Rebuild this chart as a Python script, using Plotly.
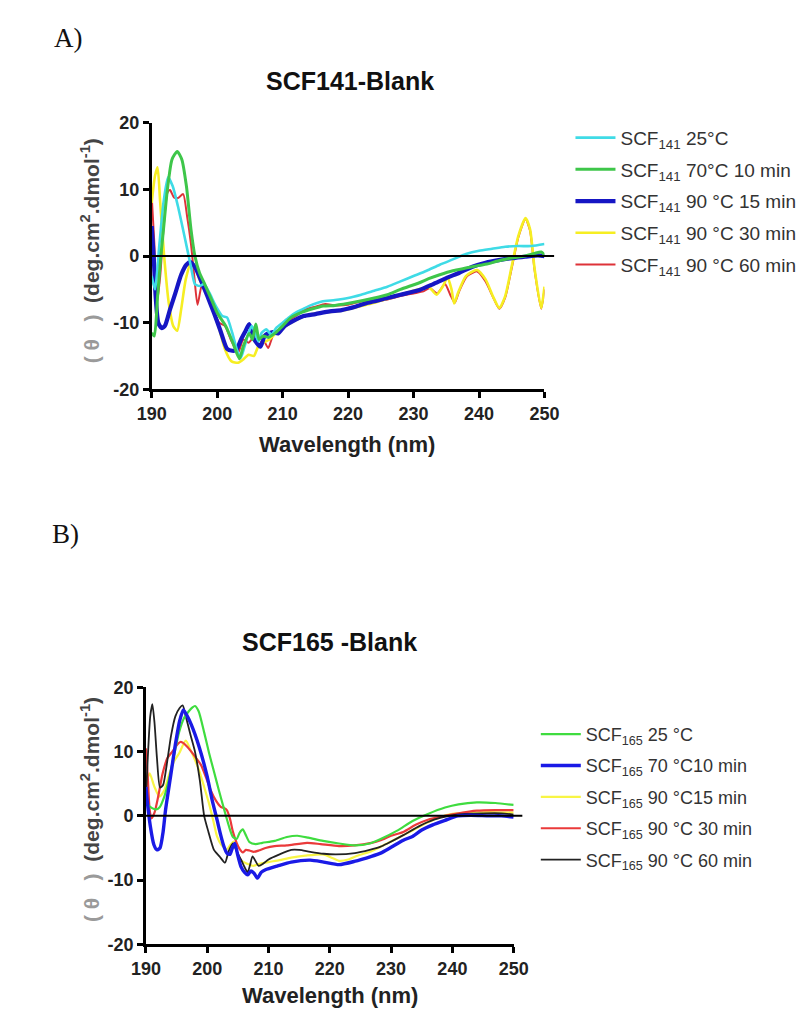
import plotly.graph_objects as go

W, H = 804, 1018

# ---------------- Panel A : SCF141-Blank ----------------
a_cyan_wl = [190, 190.5, 191.2, 191.8, 192.5, 193.2, 194, 195, 196, 196.6, 197.3, 198, 198.8, 199.8, 200.8, 201.5,
             202.3, 203, 203.6, 204.2, 204.8, 205.3, 205.8, 206.3, 206.8, 207.5, 208.3, 209, 210, 211, 212, 213, 214,
             216, 218, 220, 222, 224, 226, 228, 230, 232, 234, 236, 238, 240, 242, 244, 246, 248, 250]
a_cyan_v = [-3, -5, 2, 8, 11.8, 10.5, 7.5, 3, -1.6, -4.2, -4.5, -4.2, -5.5, -7.5, -9, -9.2,
            -11.5, -14, -15.3, -13.5, -11.5, -10.5, -11.5, -12.8, -11.5, -11, -11.8, -10.8, -10, -9.2, -8.5, -8, -7.5,
            -6.8, -6.6, -6.3, -5.8, -5.2, -4.6, -3.8, -3.0, -2.2, -1.3, -0.5, 0.3, 0.8, 1.1, 1.4, 1.5, 1.5, 1.8]

a_green_wl = [190, 190.4, 190.9, 191.4, 191.8, 192.4, 193.1, 193.9, 194.6, 195.3, 196, 196.6, 197.3, 198, 198.9, 200,
              201.3, 202.4, 203.4, 204, 204.9, 205.4, 205.9, 206.4, 207, 207.8, 208.8, 210, 211.3, 213, 216.2, 218,
              221.1, 224, 226, 228, 230.9, 232.3, 234, 236, 238, 240, 241.2, 243, 245, 247, 248.5, 249.5, 250]
a_green_v = [-11.5, -12, -6, 0, 4, 10, 14.5, 15.7, 14.5, 10.5, 4, 0, -2.5, -4, -6, -8.5,
             -10.5, -13, -15.4, -13.5, -11.6, -12.5, -10.2, -12.5, -12, -12.2, -11.6, -10.5, -9.2, -8.4, -7.5, -7.4,
             -6.9, -6.3, -5.8, -5, -4.0, -3.4, -2.8, -2.2, -1.8, -1.4, -1.2, -0.7, -0.3, 0, 0.4, 0.6, 0.2]

a_blue_wl = [190, 190.3, 190.6, 191, 191.5, 192, 192.8, 193.6, 194.5, 195.3, 195.9, 196.7, 197.5, 198.5, 199.5, 200.5,
             201.5, 202.3, 202.9, 203.7, 204.3, 204.9, 205.6, 206.6, 207.3, 208.5, 209.3, 210.3, 211.5, 213.2, 215,
             217.2, 219, 221.1, 223, 226, 228, 230.9, 233, 235, 237, 239, 241, 243, 245, 247, 249, 250]
a_blue_v = [4.5, 0, -6, -10, -10.8, -10.5, -8, -5.6, -2.8, -1.3, -0.9, -1.8, -3.6, -6, -8.5, -11.2,
            -13.9, -14.2, -14.1, -12.4, -11.3, -10.2, -12.4, -13.6, -11.9, -11.4, -11.6, -10.5, -9.8, -9.0, -8.7,
            -8.3, -8.1, -7.6, -7.0, -6.3, -5.8, -5.1, -4.2, -3.3, -2.5, -1.6, -1.0, -0.6, -0.3, -0.1, 0.1, 0]

a_yellow_wl = [190, 190.5, 190.9, 191.3, 191.9, 192.6, 193.3, 193.9, 194.5, 195.2, 196, 196.6, 197.3, 198.2, 199.2,
               200.2, 201.2, 202.2, 203.2, 204, 204.8, 205.6, 206.3, 207, 208, 209, 210, 212, 214, 216, 218, 220,
               222, 224, 226, 228, 230, 231.5, 232.3, 233.5, 234.5, 235.2, 235.8, 236.2, 236.8, 238, 239.7, 241,
               242.2, 243.1, 244, 245, 246, 247.1, 247.8, 248.5, 249.5, 250]
a_yellow_v = [8, 12, 13.3, 8, 0, -7, -10.5, -11.2, -8, -3.5, -1, -1.5, -3.5, -5, -7.5,
              -10.5, -14, -15.8, -16, -15.5, -14.8, -15, -13.5, -13, -12.5, -11.5, -10.8, -9.6, -8.8, -8.5, -8.3, -8.0,
              -7.5, -7.0, -6.4, -5.8, -5.2, -4.8, -4.6, -5.8, -4.5, -3.2, -5, -7.1, -5.5, -3.0, -2.1, -3.5,
              -6.2, -7.8, -6, -1.5, 3, 5.7, 4, -2, -7.8, -4.6]

a_red_wl = [190, 190.4, 190.8, 191.3, 191.8, 192.4, 192.8, 193.4, 194, 194.8, 195.4, 196, 196.5, 197, 197.7, 198.4,
            199.3, 200.3, 201.2, 202.2, 203.2, 204, 204.8, 205.5, 206.3, 207, 207.8, 208.5, 209.5, 210.5, 212, 213.5,
            215, 216.5, 218, 220, 222, 224, 226, 228, 230, 231.5, 232.5, 233.6, 234.8, 235.6, 236.3, 237, 238.2,
            239.7, 241, 242.3, 243.1, 244, 245, 246, 247.1, 247.8, 248.5, 249.5, 250]
a_red_v = [9, 2, -7, -3, 4, 9.5, 9.9, 8.8, 8.7, 9.3, 6, 1.8, -3, -7.3, -4.2, -5.5,
           -7.8, -10, -10.5, -12.8, -14.5, -12.5, -13, -12.3, -13.5, -12.5, -13.8, -12, -11.2, -10, -9, -8,
           -7.6, -7.2, -7.4, -7.3, -6.8, -6.8, -6.5, -6.0, -5.6, -5.3, -4.8, -5.6, -4.2, -5.8, -7.0, -5.2, -3.0,
           -2.3, -3.8, -6.5, -7.9, -6.2, -1.8, 2.8, 5.6, 3.8, -2.2, -7.9, -5]

# ---------------- Panel B : SCF165 -Blank ----------------
b_green_wl = [190, 190.3, 191, 191.6, 192.2, 193, 193.8, 194.6, 195.4, 196.2, 197, 197.6, 198.0, 198.6, 199.5, 200.3,
              201.1, 201.9, 202.7, 203.2, 203.7, 204.2, 204.8, 205.3, 205.8, 206.3, 206.9, 207.9, 209, 211, 213,
              214.7, 216.5, 218.9, 221.5, 224.1, 226.5, 228.3, 231, 233.5, 236, 238.8, 241, 244, 247, 250]
b_green_v = [4, 1.8, 1.2, 1.0, 1.3, 3, 5.9, 9.5, 13.0, 15.2, 16.3, 16.9, 17.1, 16.3, 13.0, 9.8,
             6.9, 4, 1.2, -0.5, -2.1, -3.3, -3.6, -2.6, -2.1, -3, -4.1, -4.4, -4.2, -3.9, -3.3,
             -3.1, -3.4, -3.9, -4.3, -4.6, -4.3, -3.6, -2.3, -0.8, 0.3, 1.3, 1.8, 2.1, 2.0, 1.7]

b_blue_wl = [190, 190.2, 190.7, 191.3, 191.8, 192.3, 192.8, 193.2, 194, 194.8, 195.5, 196.1, 196.7, 197.4, 198.7, 200,
             200.8, 201.6, 202.2, 202.7, 203.2, 203.7, 204.1, 204.5, 205, 205.5, 206.1, 206.6, 207.1, 207.6, 208.2,
             208.8, 209.5, 211.5, 213.7, 216.8, 219, 221.5, 224, 226.8, 228.3, 230, 232, 233.5, 235, 236.8, 238.8,
             240.9, 243, 246, 248, 250]
b_blue_v = [4.5, 2.4, -1.5, -4.5, -5.3, -5, -2.5, 0.9, 6, 11.1, 14.8, 16.5, 15.6, 14.2, 10.7, 6.1,
            2.5, -0.6, -3, -4.7, -5.8, -6.0, -5, -4.3, -6.2, -7.9, -8.8, -9.2, -8.6, -8.9, -9.7,
            -8.8, -8.4, -7.8, -7.2, -6.9, -7.2, -7.6, -7.1, -6.3, -5.8, -4.9, -3.8, -3.2, -2.2, -1.4, -0.7,
            0, 0.1, 0, 0, -0.2]

b_yellow_wl = [190, 190.6, 191.4, 192.2, 193, 193.8, 194.6, 195.4, 196.5, 197.4, 198.7, 199.5, 200.3, 201, 201.6,
               202.3, 203.2, 203.8, 204.3, 204.8, 205.6, 206.6, 207.5, 208.4, 210, 211.8, 213.7, 216, 218.9, 220.5,
               221.5, 223, 224.5, 226.8, 228.3, 230, 232, 234, 236, 238, 240, 243, 246, 250]
b_yellow_v = [5, 6.6, 4.5, 3.0, 4, 6.5, 8.5, 9.7, 11.7, 10.0, 7.0, 4.5, 1.9, -0.8, -3.2,
              -4.5, -5.2, -4.5, -4, -5.5, -7, -7.5, -7.8, -7.5, -7.2, -6.9, -6.5, -6.2, -6.0, -6.6,
              -7.0, -6.8, -6.2, -5.5, -4.8, -4.0, -3.0, -2.0, -1.0, -0.2, 0.3, 0.5, 0.6, 0.5]

b_red_wl = [190, 190.3, 190.6, 190.9, 191.4, 192, 192.7, 193.5, 194.3, 195.2, 195.6, 196, 196.7, 197.4, 198.2, 199,
            199.8, 200.6, 201.4, 202.2, 202.8, 203.2, 203.7, 204.2, 204.8, 205.3, 205.8, 206.3, 206.9, 207.6, 208.4,
            209.5, 211, 213, 216.3, 218.5, 221.5, 224, 226.8, 228.3, 230, 232, 234, 236, 238.8, 241, 244, 247, 250]
b_red_v = [10.5, 6, 1, -0.4, 0.5, 3, 6.5, 9, 10.0, 11.2, 11.5, 11.4, 10.8, 10.0, 9, 7.9,
           6, 3.9, 2.4, 1.4, 1.2, 0.9, -0.4, -2.5, -4.2, -5.2, -5.7, -5.3, -5.4, -5.6, -5.4,
           -5.0, -4.7, -4.6, -4.2, -4.4, -4.7, -4.6, -4.2, -3.8, -3.1, -2.5, -1.4, -0.6, 0, 0.4, 0.8, 0.9, 0.9]

b_black_wl = [190, 190.3, 190.7, 191.05, 191.4, 191.8, 192.3, 192.8, 193.4, 194.1, 194.8, 195.5, 196.0, 196.5, 197.3,
              198, 198.8, 199.5, 200.2, 201.1, 202, 202.9, 203.5, 204.2, 204.8, 205.5, 206.1, 206.6, 207, 207.4,
              208.4, 209.2, 210, 211.8, 213.7, 215, 216.8, 219, 221, 224.1, 226.5, 228.3, 229.4, 232, 234.6, 237,
              239.5, 242, 245, 248, 250]
b_black_v = [3, 9, 15.5, 17.4, 14.5, 9, 4.4, 4.8, 8, 12.5, 15.5, 16.8, 17.2, 15.5, 12.5,
             10.0, 5.5, 0, -2.5, -5.3, -6.3, -7.3, -5.5, -4.3, -5.5, -6.8, -8, -8.8, -7.6, -6.3,
             -7.8, -7.4, -6.8, -6, -5.3, -5.3, -5.6, -5.9, -6.0, -5.8, -5.3, -4.8, -4.3, -3.0, -1.6, -0.6,
             0, 0.3, 0.4, 0.4, 0.2]

x_ticks = [190, 200, 210, 220, 230, 240, 250]
y_ticks = [-20, -10, 0, 10, 20]
y_tick_text = ["-20", "-10", "0", "10", "20"]


def px(x):
    return x / W


def py(y):
    return 1 - y / H


FONT = "Liberation Sans, Arial, sans-serif"

fig = go.Figure()

# Panel A traces: (wl, v, name, color, width, legend rank); draw order chosen for overlap
a_series = [
    (a_red_wl, a_red_v, "SCF<sub>141</sub> 90 °C 60 min", "#de3238", 2.0, 5),
    (a_yellow_wl, a_yellow_v, "SCF<sub>141</sub> 90 °C 30 min", "#f6ee22", 2.6, 4),
    (a_blue_wl, a_blue_v, "SCF<sub>141</sub> 90 °C 15 min", "#1616c4", 4.2, 3),
    (a_cyan_wl, a_cyan_v, "SCF<sub>141</sub> 25°C", "#3fdbe6", 2.6, 1),
    (a_green_wl, a_green_v, "SCF<sub>141</sub> 70°C 10 min", "#3ec64a", 3.0, 2),
]
for wl, v, name, col, lw, rank in a_series:
    fig.add_trace(go.Scatter(x=wl, y=v, mode="lines", name=name, legendrank=rank, legendgroup="a%d" % rank,
                             line=dict(color=col, width=lw, shape="spline", smoothing=0.6),
                             xaxis="x", yaxis="y", legend="legend"))

b_series = [
    (b_yellow_wl, b_yellow_v, "SCF<sub>165</sub> 90 °C15 min", "#f8f545", 2.2, 3),
    (b_red_wl, b_red_v, "SCF<sub>165</sub> 90 °C 30 min", "#ea3a3a", 2.2, 4),
    (b_black_wl, b_black_v, "SCF<sub>165</sub> 90 °C 60 min", "#222222", 1.8, 5),
    (b_green_wl, b_green_v, "SCF<sub>165</sub> 25 °C", "#3fdc3f", 2.2, 1),
    (b_blue_wl, b_blue_v, "SCF<sub>165</sub> 70 °C10 min", "#1a1ae6", 3.4, 2),
]
for wl, v, name, col, lw, rank in b_series:
    fig.add_trace(go.Scatter(x=wl, y=v, mode="lines", name=name, legendrank=rank, legendgroup="b%d" % rank,
                             line=dict(color=col, width=lw, shape="spline", smoothing=0.6),
                             xaxis="x2", yaxis="y2", legend="legend2"))

axis_common = dict(showline=True, linecolor="black", linewidth=2.5, ticks="outside", ticklen=6,
                   tickwidth=2.5, tickcolor="black", showgrid=False, zeroline=False,
                   tickfont=dict(family=FONT, size=18, color="#222", weight="bold"))

fig.update_layout(
    width=W, height=H, margin=dict(l=0, r=0, t=0, b=0),
    paper_bgcolor="white", plot_bgcolor="white",
    xaxis=dict(domain=[px(142), px(550)], anchor="y", range=[190, 250], tickvals=x_ticks, **axis_common),
    yaxis=dict(domain=[py(387), py(115)], anchor="x", range=[-20, 20], tickvals=y_ticks,
               ticktext=y_tick_text, **axis_common),
    xaxis2=dict(domain=[px(136), px(518)], anchor="y2", range=[190, 250], tickvals=x_ticks, **axis_common),
    yaxis2=dict(domain=[py(953), py(691)], anchor="x2", range=[-20, 20], tickvals=y_ticks,
                ticktext=y_tick_text, **axis_common),
    legend=dict(x=px(577), y=py(111), xanchor="left", yanchor="top", bgcolor="rgba(0,0,0,0)",
                traceorder="grouped", font=dict(family=FONT, size=19, color="#333"), tracegroupgap=4,
                itemwidth=40),
    legend2=dict(x=px(541), y=py(720), xanchor="left", yanchor="top", bgcolor="rgba(0,0,0,0)",
                 traceorder="grouped", font=dict(family=FONT, size=18, color="#333"), tracegroupgap=5,
                 itemwidth=40),
    showlegend=True,
)

# zero reference lines
fig.add_shape(type="line", xref="paper", yref="y", x0=px(142), x1=px(560), y0=0, y1=0,
              line=dict(color="black", width=2))
fig.add_shape(type="line", xref="paper", yref="y2", x0=px(136), x1=px(527), y0=0, y1=0,
              line=dict(color="black", width=2))

ann = []
ann.append(dict(text="A)", x=px(56), y=py(29), font=dict(family="Liberation Serif, Times New Roman", size=27, color="#111")))
ann.append(dict(text="B)", x=px(52), y=py(535), font=dict(family="Liberation Serif, Times New Roman", size=27, color="#111")))
ann.append(dict(text="<b>SCF141-Blank</b>", x=px(348), y=py(72), font=dict(family=FONT, size=25, color="#111")))
ann.append(dict(text="<b>SCF165 -Blank</b>", x=px(327), y=py(645), font=dict(family=FONT, size=25, color="#111")))
ann.append(dict(text="<b>Wavelength (nm)</b>", x=px(345), y=py(443), font=dict(family=FONT, size=22, color="#222")))
ann.append(dict(text="<b>Wavelength (nm)</b>", x=px(327), y=py(1005), font=dict(family=FONT, size=22, color="#222")))
ytitle = ("<b><span style='color:#9a9a9a'>( θ   )</span>  (deg.cm<sup>2</sup>.dmol<sup>-1</sup>)</b>")
ann.append(dict(text=ytitle, x=px(78), y=py(246), textangle=-90, font=dict(family=FONT, size=21, color="#444")))
ann.append(dict(text=ytitle, x=px(78), y=py(816), textangle=-90, font=dict(family=FONT, size=21, color="#444")))
for a in ann:
    a.update(xref="paper", yref="paper", showarrow=False, xanchor="center", yanchor="middle")
fig.update_layout(annotations=ann)

# remove the default page margin so the figure sits at the window origin
fig.write_html("out.html", config={"displayModeBar": False},
               post_script="document.body.style.margin='0';document.body.style.overflow='hidden';")
